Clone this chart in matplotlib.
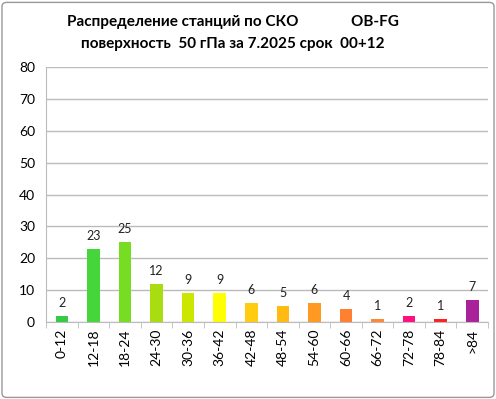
import matplotlib
matplotlib.use("Agg")
import matplotlib.pyplot as plt
from matplotlib.patches import FancyBboxPatch

CATS = ["0-12", "12-18", "18-24", "24-30", "30-36", "36-42", "42-48",
        "48-54", "54-60", "60-66", "66-72", "72-78", "78-84", ">84"]
COUNTS = [2, 23, 25, 12, 9, 9, 6, 5, 6, 4, 1, 2, 1, 7]
COLORS = ["#33CC44", "#44D63A", "#77DD22", "#AADD11", "#CCE600", "#FFFF00",
          "#FFCC11", "#FFBB11", "#FF9922", "#FF8030", "#FF8833", "#FF1080",
          "#FF2020", "#AA2299"]

plt.rcParams["font.family"] = ["Lato", "DejaVu Sans"]

fig = plt.figure(figsize=(4.96, 3.99), dpi=100)
fig.patch.set_facecolor("white")
fig.patches.append(FancyBboxPatch((0.004, 0.004), 0.992, 0.99,
                                  boxstyle="round,pad=0,rounding_size=0.01",
                                  transform=fig.transFigure, fill=False,
                                  edgecolor="#999999", lw=1.0))
ax = fig.add_axes([0.093, 0.193, 0.891, 0.639])

x = range(len(CATS))
ax.bar(x, COUNTS, width=0.4, color=COLORS, zorder=3)
for i, v in zip(x, COUNTS):
    ax.annotate(str(v), (i, v), xytext=(0, 5), textcoords="offset points",
                ha="center", va="bottom", fontsize=9, color="#222222")

ax.set_ylim(0, 80)
ax.set_xlim(-0.5, len(CATS) - 0.5)
ax.set_yticks(range(0, 81, 10))
ax.set_xticks(list(x))
ax.set_xticklabels(CATS, rotation=90, fontsize=10)
ax.tick_params(axis="y", labelsize=10, length=0, pad=8)
ax.tick_params(axis="x", length=0, pad=5)
ax.grid(axis="y", color="#BBBBBB", lw=1.0, zorder=0)
for s in ["top", "right"]:
    ax.spines[s].set_visible(False)
ax.spines["left"].set_color("#BBBBBB")
ax.spines["bottom"].set_color("#BBBBBB")
ax.spines["bottom"].set_zorder(4)
# minor ticks between categories on x-axis
ax.set_xticks([i - 0.5 for i in range(len(CATS) + 1)], minor=True)
ax.tick_params(axis="x", which="minor", length=4, color="#BBBBBB", direction="out")
ax.set_yticks([], minor=True)

fig.text(0.47, 0.945, "Распределение станций по СКО              OB-FG",
         ha="center", va="center", fontsize=11, fontweight="bold")
fig.text(0.47, 0.89, "поверхность  50 гПа за 7.2025 срок  00+12",
         ha="center", va="center", fontsize=11, fontweight="bold")

fig.savefig("out.png", dpi=100)
